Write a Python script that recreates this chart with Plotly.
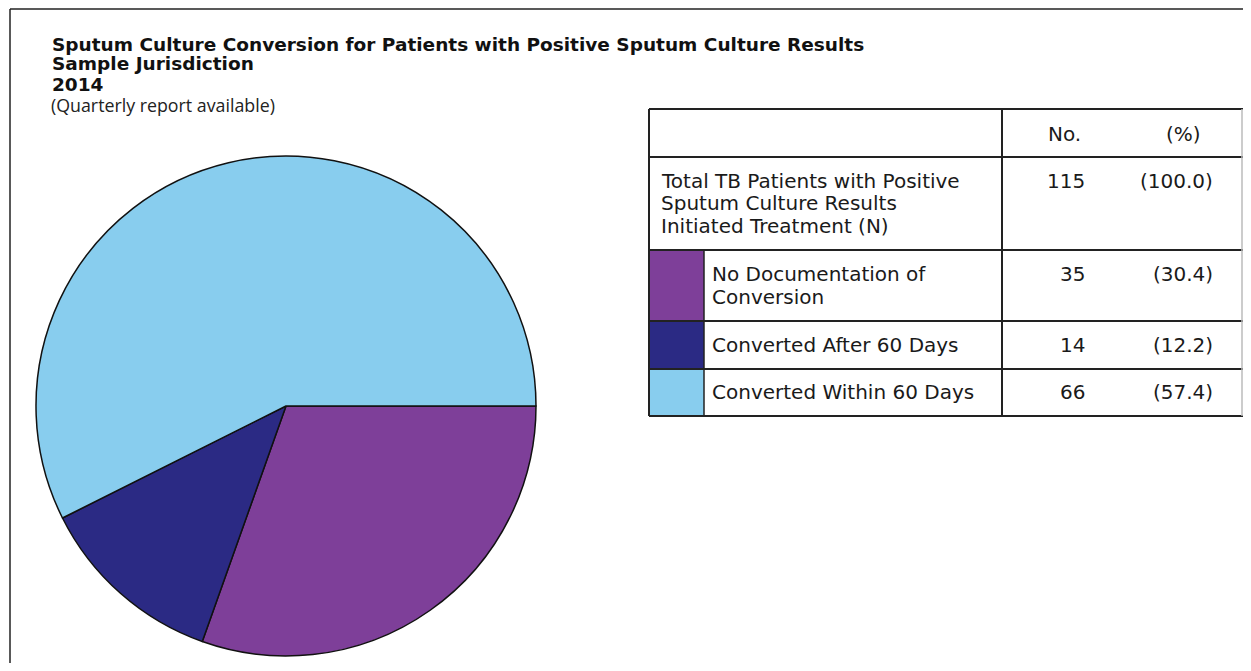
import plotly.graph_objects as go

# the page body has an 8px margin, so the figure is drawn 8px in from the window corner
W, H = 1251, 671
OFF = 8
FW, FH = W - 2 * OFF, H - 2 * OFF

# --- data ---
title_lines = ["Sputum Culture Conversion for Patients with Positive Sputum Culture Results",
               "Sample Jurisdiction", "2014"]
note = "(Quarterly report available)"
col_headers = ["No.", "(%)"]
total_label = ["Total TB Patients with Positive", "Sputum Culture Results", "Initiated Treatment (N)"]
total_count = 115
total_pct = 100.0
categories = [["No Documentation of", "Conversion"], ["Converted After 60 Days"], ["Converted Within 60 Days"]]
counts = [35, 14, 66]
percents = [30.4, 12.2, 57.4]
colors = ["#7e3f99", "#2b2a84", "#88cdee"]

# table grid (window pixels)
tx_left, tx_swatch, tx_div, tx_right = 649, 704, 1002, 1242
row_edges = [109, 157, 250, 321, 369, 416]
LH = 22.5


def px(x):
    return (x - OFF) / FW


def py(y):
    return 1 - (y - OFF) / FH


fig = go.Figure()
fig.add_trace(go.Pie(
    labels=[" ".join(c) for c in categories], values=counts,
    marker=dict(colors=colors, line=dict(color="#111111", width=1.5)),
    sort=False, direction="clockwise", rotation=90,
    textinfo="none", hoverinfo="label+value+percent", showlegend=False,
    domain=dict(x=[px(36), px(536)], y=[py(656), py(156)]),
))

shapes = []
anns = []

# outer frame (left and top edges)
shapes.append(dict(type="line", xref="paper", yref="paper", x0=px(10), x1=px(10), y0=py(9), y1=0,
                   line=dict(color="#222", width=1.5)))
shapes.append(dict(type="line", xref="paper", yref="paper", x0=px(10), x1=1, y0=py(9), y1=py(9),
                   line=dict(color="#222", width=1.5)))

# title block
for i, t in enumerate(title_lines):
    anns.append(dict(text="<b>%s</b>" % t, x=px(50), y=py(44 + 20 * i), xref="paper", yref="paper",
                     xanchor="left", yanchor="middle", showarrow=False,
                     font=dict(family="DejaVu Sans", size=18.5, color="#111")))
anns.append(dict(text=note, x=px(49), y=py(105), xref="paper", yref="paper",
                 xanchor="left", yanchor="middle", showarrow=False,
                 font=dict(family="Open Sans", size=17.8, color="#222")))

# table lines
for yy in row_edges:
    shapes.append(dict(type="line", xref="paper", yref="paper", x0=px(tx_left), x1=px(tx_right + 2),
                       y0=py(yy), y1=py(yy), line=dict(color="#222", width=2)))
shapes.append(dict(type="line", xref="paper", yref="paper", x0=px(tx_left), x1=px(tx_left),
                   y0=py(row_edges[0]), y1=py(row_edges[-1]), line=dict(color="#222", width=2)))
shapes.append(dict(type="line", xref="paper", yref="paper", x0=px(tx_div), x1=px(tx_div),
                   y0=py(row_edges[0]), y1=py(row_edges[-1]), line=dict(color="#222", width=2)))
shapes.append(dict(type="line", xref="paper", yref="paper", x0=px(tx_right), x1=px(tx_right),
                   y0=py(row_edges[0]), y1=py(row_edges[-1]), line=dict(color="#bbbbbb", width=1.5)))
shapes.append(dict(type="line", xref="paper", yref="paper", x0=px(tx_swatch), x1=px(tx_swatch),
                   y0=py(row_edges[2]), y1=py(row_edges[-1]), line=dict(color="#222", width=1.5)))

# colour swatches
for i, c in enumerate(colors):
    shapes.append(dict(type="rect", xref="paper", yref="paper", x0=px(tx_left + 1), x1=px(tx_swatch),
                       y0=py(row_edges[i + 2] + 1), y1=py(row_edges[i + 3] - 1),
                       fillcolor=c, line=dict(width=0), layer="below"))

font_t = dict(family="DejaVu Sans", size=20, color="#1a1a1a")
num_x = 1087
pct_x = 1215

# header
hy = (row_edges[0] + row_edges[1]) / 2 + 1
anns.append(dict(text=col_headers[0], x=px(1064), y=py(hy), xref="paper", yref="paper",
                 xanchor="center", yanchor="middle", showarrow=False, font=font_t))
anns.append(dict(text=col_headers[1], x=px(1183), y=py(hy), xref="paper", yref="paper",
                 xanchor="center", yanchor="middle", showarrow=False, font=font_t))

rows = [(total_label, total_count, total_pct, 659)] + \
       [(categories[i], counts[i], percents[i], 710) for i in range(len(counts))]
for r, (lab, n, p, lx) in enumerate(rows):
    top, bot = row_edges[r + 1], row_edges[r + 2]
    cy = (top + bot) / 2
    first = cy - (len(lab) - 1) * LH / 2
    for j, line in enumerate(lab):
        anns.append(dict(text=line, x=px(lx), y=py(first + j * LH), xref="paper", yref="paper",
                         xanchor="left", yanchor="middle", showarrow=False, font=font_t))
    anns.append(dict(text=str(n), x=px(num_x), y=py(first), xref="paper", yref="paper",
                     xanchor="right", yanchor="middle", showarrow=False, font=font_t))
    anns.append(dict(text="(%.1f)" % p, x=px(pct_x), y=py(first), xref="paper", yref="paper",
                     xanchor="right", yanchor="middle", showarrow=False, font=font_t))

fig.update_layout(
    width=FW, height=FH, margin=dict(l=0, r=0, t=0, b=0),
    paper_bgcolor="white", plot_bgcolor="white",
    shapes=shapes, annotations=anns,
)
fig.write_html("out.html")
